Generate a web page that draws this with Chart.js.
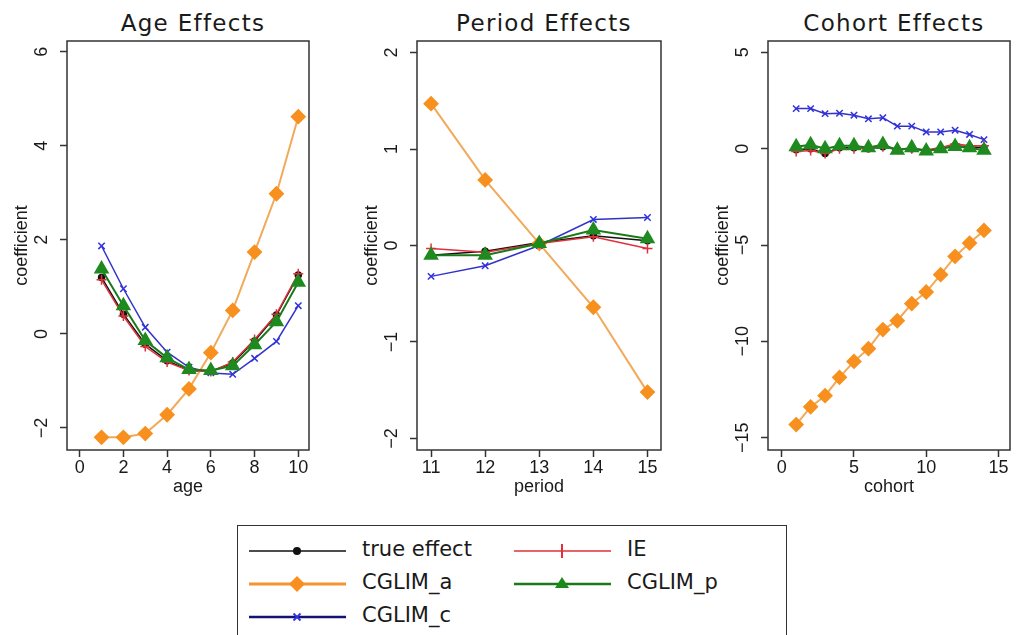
<!DOCTYPE html>
<html>
<head>
<meta charset="utf-8">
<script src="https://cdn.jsdelivr.net/npm/chart.js@4.4.1/dist/chart.umd.min.js"></script>
<style>
  html, body { margin: 0; padding: 0; background: #fff; }
  body { width: 1019px; height: 635px; position: relative; overflow: hidden; color: #1a1a1a; }
  canvas { position: absolute; top: 0; }
  .title { position: absolute; top: 10px; width: 300px; margin-left: -150px; text-align: center;
           font: 23px/27px "DejaVu Sans", sans-serif; letter-spacing: 1.3px; color: #1a1a1a; }
  #legend { position: absolute; left: 237px; top: 525px; width: 550px; height: 140px;
            border: 1.5px solid #333; box-sizing: border-box; background: #fff; }
  .item { position: absolute; width: 300px; height: 24px; }
  .item svg { position: absolute; left: 0; top: 0; }
  .item span { position: absolute; left: 113px; top: -2px; font: 21px/24px "DejaVu Sans", sans-serif; white-space: nowrap; }
</style>
</head>
<body>
<div class="title" style="left:193px">Age Effects</div>
<div class="title" style="left:544px">Period Effects</div>
<div class="title" style="left:894px">Cohort Effects</div>

<canvas id="ageChart" width="318" height="500" style="left:0px"></canvas>
<canvas id="periodChart" width="320" height="500" style="left:350px"></canvas>
<canvas id="cohortChart" width="318" height="500" style="left:701px"></canvas>

<div id="legend">
  <div class="item" style="left:11px; top:13px">
    <svg width="100" height="24"><line x1="0" y1="12" x2="97" y2="12" stroke="#111" stroke-width="1.3"/><circle cx="48" cy="12" r="4" fill="#111"/></svg>
    <span>true effect</span>
  </div>
  <div class="item" style="left:11px; top:46px">
    <svg width="100" height="24"><line x1="0" y1="12" x2="97" y2="12" stroke="#f39530" stroke-width="3"/><polygon points="48,4 56,12 48,20 40,12" fill="#f7901e"/></svg>
    <span>CGLIM_a</span>
  </div>
  <div class="item" style="left:11px; top:79px">
    <svg width="100" height="24"><line x1="0" y1="12" x2="97" y2="12" stroke="#14146e" stroke-width="2.5"/><path d="M44.5 8.5 L51.5 15.5 M51.5 8.5 L44.5 15.5" stroke="#3030e0" stroke-width="1.8"/></svg>
    <span>CGLIM_c</span>
  </div>
  <div class="item" style="left:276px; top:13px">
    <svg width="100" height="24"><line x1="0" y1="12" x2="97" y2="12" stroke="#e0303a" stroke-width="1.5"/><line x1="48" y1="5" x2="48" y2="19" stroke="#e0303a" stroke-width="2"/></svg>
    <span>IE</span>
  </div>
  <div class="item" style="left:276px; top:46px">
    <svg width="100" height="24"><line x1="0" y1="12" x2="97" y2="12" stroke="#1a7a1a" stroke-width="2.5"/><polygon points="48,5 55,16 41,16" fill="#1a8a1a"/></svg>
    <span>CGLIM_p</span>
  </div>
</div>

<script>
// x positions
const ageX = [1, 2, 3, 4, 5, 6, 7, 8, 9, 10];
const periodX = [11, 12, 13, 14, 15];
const cohortX = [1, 2, 3, 4, 5, 6, 7, 8, 9, 10, 11, 12, 13, 14];

// age effects
const ageTrue = [1.2, 0.42, -0.22, -0.57, -0.78, -0.8, -0.62, -0.15, 0.4, 1.25];
const ageIE = [1.15, 0.38, -0.27, -0.6, -0.78, -0.8, -0.6, -0.12, 0.42, 1.28];
const ageA = [-2.2, -2.2, -2.12, -1.72, -1.17, -0.4, 0.5, 1.74, 2.98, 4.62];
const ageC = [1.87, 0.96, 0.14, -0.39, -0.71, -0.83, -0.86, -0.52, -0.16, 0.6];
const ageP = [1.38, 0.6, -0.14, -0.51, -0.76, -0.78, -0.68, -0.23, 0.26, 1.1];

// period effects
const periodTrue = [-0.1, -0.06, 0.03, 0.1, 0.05];
const periodIE = [-0.03, -0.07, 0.02, 0.09, -0.03];
const periodA = [1.47, 0.68, 0.02, -0.64, -1.52];
const periodC = [-0.32, -0.21, 0.0, 0.27, 0.29];
const periodP = [-0.1, -0.1, 0.02, 0.16, 0.07];

// cohort effects
const cohortTrue = [-0.05, 0.0, -0.25, 0.05, 0.05, 0.0, 0.1, -0.05, 0.0, -0.1, 0.0, 0.15, 0.1, 0.05];
const cohortIE = [-0.15, -0.1, -0.25, 0.0, 0.0, 0.05, 0.1, 0.0, 0.0, -0.05, 0.05, 0.25, 0.15, 0.15];
const cohortA = [-14.32, -13.4, -12.82, -11.87, -11.04, -10.38, -9.39, -8.93, -8.04, -7.44, -6.54, -5.59, -4.9, -4.24];
const cohortC = [2.08, 2.08, 1.82, 1.84, 1.74, 1.55, 1.61, 1.17, 1.17, 0.87, 0.87, 0.96, 0.74, 0.47];
const cohortP = [0.1, 0.2, 0.0, 0.15, 0.15, 0.05, 0.22, -0.08, 0.05, -0.12, 0.0, 0.12, 0.05, -0.08];

const TXT = '#1a1a1a';
const AXIS = '#333';
const tickFont = { family: '"Liberation Sans", Arial, sans-serif', size: 18 };

function pts(xs, ys) {
    return xs.map((x, i) => ({ x: x, y: ys[i] }));
}

function buildSets(xs, t, ie, a, c, p) {
    return [
        { label: 'true effect', data: pts(xs, t), borderColor: '#111', backgroundColor: '#111',
          borderWidth: 1.5, pointStyle: 'circle', pointRadius: 3, order: 4 },
        { label: 'CGLIM_a', data: pts(xs, a), borderColor: '#f2a95a', backgroundColor: '#f7901e',
          pointBorderColor: '#f7901e', borderWidth: 2, pointStyle: 'rectRot', pointRadius: 6.5, order: 3 },
        { label: 'CGLIM_c', data: pts(xs, c), borderColor: '#3232c8', backgroundColor: '#3232dd',
          pointBorderColor: '#3232dd', borderWidth: 1.5, pointBorderWidth: 1.5, pointStyle: 'crossRot', pointRadius: 4.5, order: 2 },
        { label: 'IE', data: pts(xs, ie), borderColor: '#e0303a', backgroundColor: '#e0303a',
          borderWidth: 1.5, pointBorderWidth: 1.5, pointStyle: 'cross', pointRadius: 5, order: 1 },
        { label: 'CGLIM_p', data: pts(xs, p), borderColor: '#1a7a1a', backgroundColor: '#1f8a1f',
          pointBorderColor: '#1f8a1f', borderWidth: 2, pointStyle: 'triangle', pointRadius: 7, order: 0 }
    ];
}

// R-style box and rotated y tick labels
const boxPlugin = {
    id: 'rbox',
    afterDraw(chart) {
        const a = chart.chartArea;
        const ctx = chart.ctx;
        ctx.save();
        ctx.strokeStyle = AXIS;
        ctx.lineWidth = 1.5;
        ctx.strokeRect(a.left, a.top, a.right - a.left, a.bottom - a.top);
        const ys = chart.scales.y;
        ctx.fillStyle = TXT;
        ctx.font = '18px "Liberation Sans", Arial, sans-serif';
        ctx.textAlign = 'center';
        ctx.textBaseline = 'middle';
        ys.ticks.forEach(t => {
            const py = ys.getPixelForValue(t.value);
            ctx.save();
            ctx.translate(a.left - 25, py);
            ctx.rotate(-Math.PI / 2);
            ctx.fillText(String(t.value).replace('-', '\u2212'), 0, 0);
            ctx.restore();
        });
        ctx.restore();
    }
};

function makePanel(id, xs, sets, xTitle, xr, yr) {
    const ctx = document.getElementById(id).getContext('2d');
    return new Chart(ctx, {
        type: 'line',
        data: { datasets: sets },
        options: {
            responsive: false,
            animation: false,
            layout: { padding: { top: 41, right: 2, left: 0, bottom: 0 } },
            plugins: { legend: { display: false }, tooltip: { enabled: false } },
            scales: {
                x: {
                    type: 'linear',
                    min: xr[0], max: xr[1],
                    afterFit: s => { s.height = 50; },
                    grid: { drawOnChartArea: false, tickLength: 7, tickColor: AXIS, tickWidth: 1.5 },
                    border: { display: false },
                    ticks: { stepSize: xr[2], includeBounds: false, color: TXT, font: tickFont, padding: 0, maxRotation: 0 },
                    title: { display: true, text: xTitle, color: TXT, font: tickFont, padding: { top: 0, bottom: 2 } }
                },
                y: {
                    type: 'linear',
                    min: yr[0], max: yr[1],
                    afterFit: s => { s.width = 67; },
                    grid: { drawOnChartArea: false, tickLength: 7, tickColor: AXIS, tickWidth: 1.5 },
                    border: { display: false },
                    ticks: { stepSize: yr[2], includeBounds: false, display: false },
                    title: { display: true, text: 'coefficient', color: TXT, font: tickFont, padding: { top: 11, bottom: 0 } }
                }
            }
        },
        plugins: [boxPlugin]
    });
}

makePanel('ageChart', ageX, buildSets(ageX, ageTrue, ageIE, ageA, ageC, ageP), 'age', [-0.58, 10.49, 2], [-2.47, 6.23, 2]);
makePanel('periodChart', periodX, buildSets(periodX, periodTrue, periodIE, periodA, periodC, periodP), 'period', [10.74, 15.25, 1], [-2.12, 2.12, 1]);
makePanel('cohortChart', cohortX, buildSets(cohortX, cohortTrue, cohortIE, cohortA, cohortC, cohortP), 'cohort', [-0.95, 15.8, 5], [-15.64, 5.59, 5]);
</script>
</body>
</html>
